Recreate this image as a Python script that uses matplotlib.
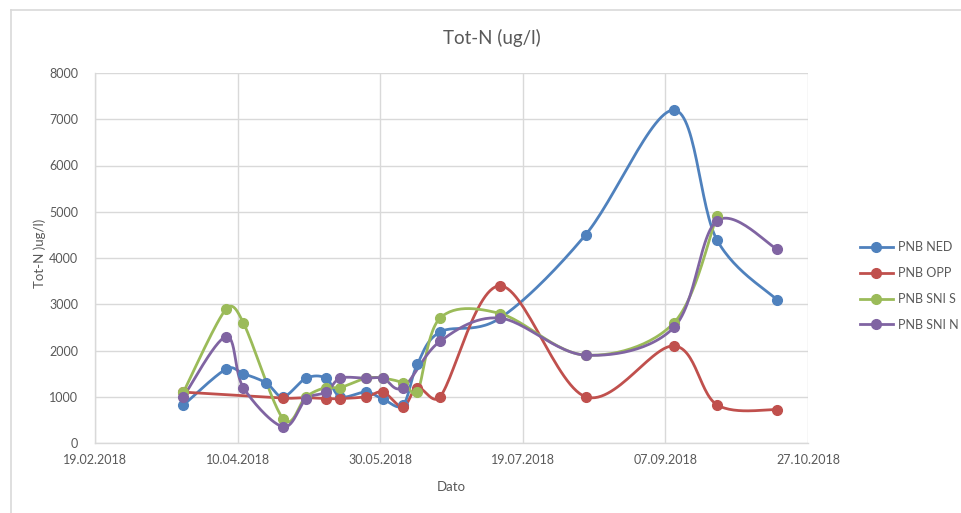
import numpy as np
import matplotlib
matplotlib.use("Agg")
import matplotlib.pyplot as plt
import matplotlib.dates as mdates
from matplotlib.lines import Line2D
import datetime as dt

plt.rcParams['font.family'] = ['Lato', 'DejaVu Sans']

# ---- data ----
ned_dates = ["2018-03-22", "2018-04-06", "2018-04-12", "2018-04-20", "2018-04-26", "2018-05-04",
             "2018-05-11", "2018-05-16", "2018-05-25", "2018-05-31", "2018-06-07", "2018-06-12",
             "2018-06-20", "2018-07-11", "2018-08-10", "2018-09-10", "2018-09-25", "2018-10-16"]
ned_vals = [820, 1600, 1500, 1300, 1000, 1400, 1400, 1000, 1100, 950, 820, 1700,
            2400, 2700, 4500, 7200, 4400, 3100]

opp_dates = ["2018-03-22", "2018-04-26", "2018-05-04", "2018-05-11", "2018-05-16", "2018-05-25",
             "2018-05-31", "2018-06-07", "2018-06-12", "2018-06-20", "2018-07-11", "2018-08-10",
             "2018-09-10", "2018-09-25", "2018-10-16"]
opp_vals = [1100, 970, 980, 960, 960, 1000, 1100, 780, 1200, 1000, 3400, 1000, 2100, 830, 720]

snis_dates = ["2018-03-22", "2018-04-06", "2018-04-12", "2018-04-26", "2018-05-04", "2018-05-11",
              "2018-05-16", "2018-05-25", "2018-05-31", "2018-06-07", "2018-06-12", "2018-06-20",
              "2018-07-11", "2018-08-10", "2018-09-10", "2018-09-25"]
snis_vals = [1100, 2900, 2600, 520, 1000, 1200, 1200, 1400, 1400, 1300, 1100, 2700,
             2800, 1900, 2600, 4900]

snin_dates = ["2018-03-22", "2018-04-06", "2018-04-12", "2018-04-26", "2018-05-04", "2018-05-11",
              "2018-05-16", "2018-05-25", "2018-05-31", "2018-06-07", "2018-06-20", "2018-07-11",
              "2018-08-10", "2018-09-10", "2018-09-25", "2018-10-16"]
snin_vals = [1000, 2300, 1200, 350, 950, 1100, 1400, 1400, 1400, 1200, 2200, 2700,
             1900, 2500, 4800, 4200]

series_names = ["PNB NED", "PNB OPP", "PNB SNI S", "PNB SNI N"]
series_dates = [ned_dates, opp_dates, snis_dates, snin_dates]
series_vals = [ned_vals, opp_vals, snis_vals, snin_vals]
colors = ["#4F81BD", "#C0504D", "#9BBB59", "#8064A2"]

x_start = "2018-02-19"
x_end = "2018-10-27"
tick_step_days = 50
y_ticks = [0, 1000, 2000, 3000, 4000, 5000, 6000, 7000, 8000]

title = "Tot-N (ug/l)"
ylabel = "Tot-N )ug/l)"
xlabel = "Dato"

# ---- figure ----
W, H = 962, 513
fig = plt.figure(figsize=(W / 100, H / 100), dpi=100)
ax = fig.add_axes([95 / W, 1 - 443 / H, (808 - 95) / W, (443 - 73) / H])

def to_num(ds):
    return mdates.date2num([dt.datetime.strptime(d, "%Y-%m-%d") for d in ds])

x0 = to_num([x_start])[0]
x1 = to_num([x_end])[0]
ax.set_xlim(x0, x1)
ax.set_ylim(0, 8000)

ticks = np.arange(x0, x1 + 0.5, tick_step_days)
ax.set_xticks(ticks)
ax.xaxis.set_major_formatter(mdates.DateFormatter("%d.%m.%Y"))
ax.set_yticks(y_ticks)

grid_c = "#D9D9D9"
ax.grid(True, color=grid_c, linewidth=1.0)
ax.set_axisbelow(True)
for s in ["top", "right"]:
    ax.spines[s].set_visible(False)
ax.spines["left"].set_color(grid_c)
ax.spines["bottom"].set_color(grid_c)
ax.spines["left"].set_linewidth(1.0)
ax.spines["bottom"].set_linewidth(1.0)
ax.tick_params(length=0, labelsize=9, labelcolor="#595959")
ax.tick_params(axis="y", pad=12)
ax.tick_params(axis="x", pad=8)


def smooth(xs, ys, n=30):
    pts = ax.transData.transform(np.column_stack([xs, ys]))
    m = len(pts)
    out = [pts[0]]
    f = 1.0 / 6.0
    for i in range(m - 1):
        p0 = pts[i - 1] if i > 0 else pts[i]
        p1 = pts[i]
        p2 = pts[i + 1]
        p3 = pts[i + 2] if i + 2 < m else pts[i + 1]
        d12 = np.hypot(*(p2 - p1))
        d02 = np.hypot(*(p2 - p0))
        d13 = np.hypot(*(p3 - p1))
        f1 = f if d02 == 0 else min(f, 0.5 * d12 / d02)
        f2 = f if d13 == 0 else min(f, 0.5 * d12 / d13)
        c1 = p1 + (p2 - p0) * f1
        c2 = p2 - (p3 - p1) * f2
        t = np.linspace(0, 1, n)[1:, None]
        b = ((1 - t) ** 3) * p1 + 3 * ((1 - t) ** 2) * t * c1 + 3 * (1 - t) * t ** 2 * c2 + t ** 3 * p2
        out.extend(b)
    out = np.array(out)
    d = ax.transData.inverted().transform(out)
    return d[:, 0], d[:, 1]


handles = []
for name, ds, vs, c in zip(series_names, series_dates, series_vals, colors):
    xs = to_num(ds)
    sx, sy = smooth(xs, np.array(vs, float))
    ax.plot(sx, sy, color=c, linewidth=2.0, solid_capstyle="round", zorder=3)
    ax.plot(xs, vs, linestyle="none", marker="o", markersize=7, color=c, zorder=4)
    handles.append(Line2D([0], [0], color=c, linewidth=2.0, marker="o", markersize=7, label=name))

fig.text(492 / W, 1 - 38 / H, title, ha="center", va="center", fontsize=13.5, color="#595959")
fig.text(451 / W, 1 - 487 / H, xlabel, ha="center", va="center", fontsize=9.5, color="#595959")
fig.text(40 / W, 1 - 253 / H, ylabel, ha="center", va="center", rotation=90, fontsize=9.5, color="#595959")

leg = fig.legend(handles=handles, loc="center left", bbox_to_anchor=(860 / W, 1 - 286 / H),
                 frameon=False, fontsize=9, borderpad=0, borderaxespad=0, handlelength=2.6,
                 handletextpad=0.45, labelspacing=1.1, labelcolor="#595959")

# outer chart border (partially visible)
fig.add_artist(Line2D([11 / W, 1.0], [1 - 10 / H, 1 - 10 / H], transform=fig.transFigure,
                      color=grid_c, linewidth=1.2))
fig.add_artist(Line2D([11 / W, 11 / W], [0.0, 1 - 10 / H], transform=fig.transFigure,
                      color=grid_c, linewidth=1.2))

fig.savefig("out.png", dpi=100, facecolor="white")
